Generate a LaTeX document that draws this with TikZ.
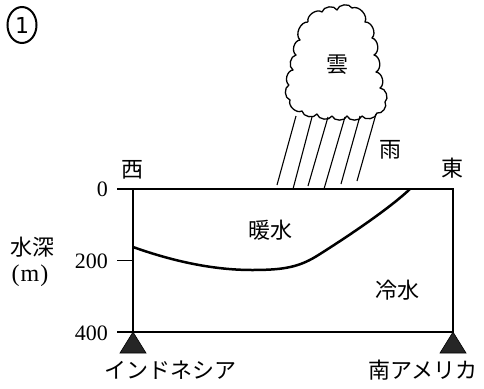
\documentclass[tikz,border=0pt]{standalone}
\usepackage{fontspec}
\setmainfont{Liberation Serif}
\newfontfamily\jp{Noto Sans CJK JP}
\newfontfamily\numsans{DejaVu Sans}
\usetikzlibrary{shapes.geometric}
\tikzset{
  jplabel/.style={font=\jp\fontsize{22}{24}\selectfont, inner sep=0pt},
  numlabel/.style={font=\fontsize{22}{24}\selectfont, inner sep=0pt},
  frame/.style={line width=1.5pt},
  boundary/.style={line width=2.5pt},
  rain/.style={line width=1.1pt},
  cloudline/.style={line width=1.3pt, line join=round},
  peak/.style={fill=black!85, draw=black, line width=0.6pt},
}
\begin{document}
\begin{tikzpicture}[x=1pt,y=-1pt]
\useasboundingbox (0,0) rectangle (484,388);
% frame
\coordinate (tl) at (133,189);
\coordinate (tr) at (453,189);
\coordinate (bl) at (133,332);
\coordinate (br) at (453,332);
\coordinate (t0) at (117,189);
\coordinate (t4) at (117,332);
\coordinate (t2a) at (117,260);
\coordinate (t2b) at (133,260);
\draw[frame] (t0) -- (tr) -- (br) -- (t4);
\draw[frame] (tl) -- (bl);
\draw[line width=0.8pt] (t2a) -- (t2b);
% thermocline
\draw[boundary] (133,247) .. controls (175,262) and (215,270) .. (252,270)
  .. controls (285,270) and (300,267) .. (320,254)
  .. controls (350,235) and (390,208) .. (410,189);
% triangles
\draw[peak] (bl) -- (120,353) -- (146,353) -- cycle;
\draw[peak] (br) -- (440,353) -- (466,353) -- cycle;
% cloud
\draw[cloudline] (308,22) to[bend left=70] (322,12) to[bend left=70] (337,10)
  to[bend left=70] (352,8) to[bend left=70] (365,22) to[bend left=70] (372,38)
  to[bend left=70] (374,55) to[bend left=70] (376,72) to[bend left=70] (380,88)
  to[bend left=70] (385,102) to[bend left=70] (377,113) to[bend left=70] (362,116)
  to[bend left=70] (347,116) to[bend left=70] (332,116) to[bend left=70] (317,114)
  to[bend left=70] (302,111) to[bend left=70] (290,100) to[bend left=70] (289,85)
  to[bend left=70] (293,70) to[bend left=70] (296,55) to[bend left=70] (300,40)
  to[bend left=70] (308,22);
% rain
\draw[rain] (296,116) -- (277,185);
\draw[rain] (312,117) -- (293,189);
\draw[rain] (328,117) -- (308,186);
\draw[rain] (345,117) -- (324,189);
\draw[rain] (360,116) -- (341,184);
\draw[rain] (376,114) -- (357,181);
% labels
\node[jplabel] (kumo) at (337,65) {雲};
\node[jplabel] (ame) at (390,150) {雨};
\node[jplabel] (nishi) at (132,170) {西};
\node[jplabel] (higashi) at (452,168) {東};
\node[jplabel] (dan) at (270,230) {暖水};
\node[jplabel] (rei) at (397,290) {冷水};
\node[jplabel] (suishin) at (32,247) {水深};
\node[numlabel, font=\fontsize{24}{26}\selectfont] (unit) at (30,276) {(\kern1pt m\kern1pt)};
\node[numlabel, anchor=east] (d0) at (108,189) {0};
\node[numlabel, anchor=east] (d200) at (108,261) {200};
\node[numlabel, anchor=east] (d400) at (108,333) {400};
\node[jplabel] (indo) at (170,370) {インドネシア};
\node[jplabel] (sam) at (423,370) {南アメリカ};
\node[ellipse, draw, line width=2pt, minimum width=29pt, minimum height=36pt, inner sep=0pt,
  font=\numsans\fontsize{22}{24}\selectfont] (num) at (22,25) {1};
\end{tikzpicture}
\end{document}
